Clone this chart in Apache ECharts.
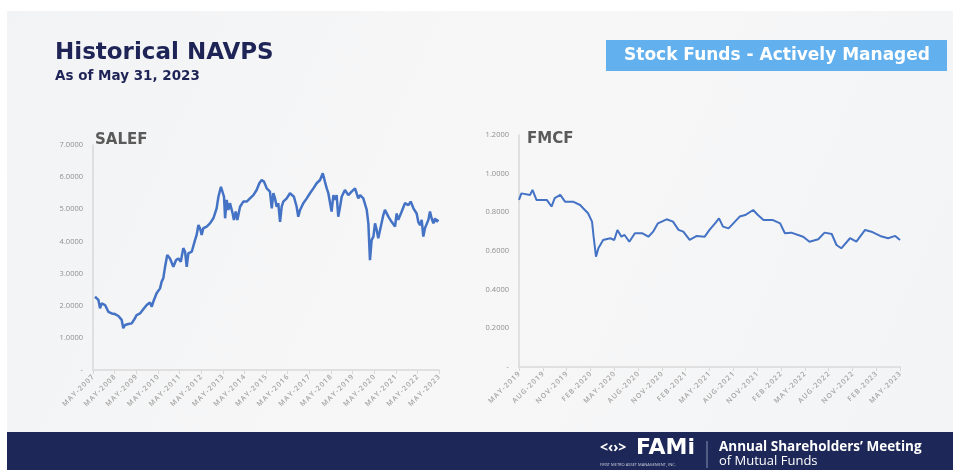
<!DOCTYPE html>
<html>
<head>
<meta charset="utf-8">
<script src="https://cdn.jsdelivr.net/npm/echarts@6/dist/echarts.min.js"></script>
<style>
  html, body { margin: 0; padding: 0; background: #fff; }
  #main { width: 958px; height: 470px; }
</style>
</head>
<body>
<div id="main"></div>
<script>
// SALEF: months since May 2007 and NAVPS
const salefMonth = [1.1, 2.0, 3.0, 3.9, 4.8, 5.7, 6.7, 7.6, 8.5, 10.4, 12.2, 14.1, 15.0, 15.9, 16.8, 17.8, 19.6, 21.5, 23.3, 24.2,
  26.1, 27.9, 29.8, 31.6, 32.6, 33.5, 35.3, 36.3, 37.2, 38.1, 39.0, 40.0, 41.2, 42.7, 44.6, 46.1, 47.4, 48.7, 50.1, 51.1,
  52.0, 52.9, 54.8, 56.6, 57.5, 58.5, 59.4, 60.3, 61.2, 63.1, 64.9, 66.8, 68.6, 69.6, 71.0, 72.0, 72.7, 73.3, 74.2, 75.1,
  76.0, 77.5, 78.2, 79.2, 80.1, 81.6, 83.4, 85.3, 87.1, 89.0, 90.8, 92.3, 93.6, 94.9, 96.4, 97.3, 98.2, 99.2, 100.1, 101.0,
  101.9, 102.8, 103.8, 104.7, 105.6, 107.5, 109.3, 110.2, 111.5, 113.0, 113.9, 114.9, 116.7, 118.6, 120.4, 122.3, 124.1, 126.0, 127.5, 128.2,
  128.7, 129.7, 130.6, 131.5, 132.4, 133.4, 134.3, 135.2, 136.1, 137.1, 138.0, 139.8, 141.7, 143.5, 145.4, 147.2, 148.2, 150.0, 151.9, 152.8,
  153.7, 154.6, 155.6, 156.5, 157.4, 158.3, 159.3, 161.1, 162.0, 163.9, 165.7, 167.6, 168.5, 169.4, 171.3, 173.1, 175.0, 176.3, 177.8, 179.6,
  180.5, 181.5, 182.4, 183.3, 184.2, 186.1, 187.0, 187.9, 188.9, 189.8, 190.7, 191.6]
const salefNavps = [2.28, 2.33, 2.18, 1.92, 2.07, 2.13, 2.02, 1.92, 1.81, 1.76, 1.74, 1.68, 1.66, 1.56, 1.30, 1.40, 1.43, 1.45, 1.61, 1.71,
  1.76, 1.89, 2.02, 2.10, 1.97, 2.13, 2.39, 2.44, 2.54, 2.75, 2.85, 3.21, 3.58, 3.47, 3.21, 3.42, 3.47, 3.37, 3.79, 3.68,
  3.21, 3.63, 3.68, 4.04, 4.20, 4.51, 4.41, 4.20, 4.41, 4.46, 4.56, 4.72, 5.03, 5.39, 5.70, 5.76, 5.39, 4.72, 5.29, 4.98,
  5.19, 4.87, 4.67, 4.93, 4.67, 5.08, 5.24, 5.24, 5.34, 5.44, 5.60, 5.81, 5.91, 5.86, 5.65, 5.70, 5.55, 5.03, 5.50, 5.34,
  5.08, 5.19, 4.61, 5.08, 5.24, 5.34, 5.50, 5.55, 5.39, 5.08, 4.77, 4.98, 5.19, 5.34, 5.50, 5.65, 5.81, 5.91, 6.12, 6.17,
  5.86, 5.65, 5.50, 5.55, 4.93, 5.44, 5.29, 5.44, 4.77, 5.08, 5.39, 5.60, 5.44, 5.55, 5.65, 5.34, 5.44, 5.34, 4.98, 4.56,
  3.42, 4.04, 4.15, 4.56, 4.36, 4.10, 4.15, 4.82, 4.98, 4.77, 4.61, 4.46, 4.87, 4.67, 4.93, 5.19, 5.13, 5.24, 5.03, 4.87,
  4.61, 4.51, 4.67, 4.15, 4.41, 4.67, 4.93, 4.72, 4.56, 4.72, 4.61, 4.68]
const salefTicks = ['MAY-2007', 'MAY-2008', 'MAY-2009', 'MAY-2010', 'MAY-2011', 'MAY-2012', 'MAY-2013', 'MAY-2014',
  'MAY-2015', 'MAY-2016', 'MAY-2017', 'MAY-2018', 'MAY-2019', 'MAY-2020', 'MAY-2021', 'MAY-2022', 'MAY-2023']

// FMCF: months since May 2019
const fmcfMonth = [0, 0.3, 1.4, 1.7, 2.2, 3.5, 4.1, 4.5, 5.2, 5.8, 6.8, 7.7, 8.3, 8.7, 9.2, 9.4, 9.7, 10, 10.6, 11.5,
  12, 12.4, 12.9, 13.3, 13.9, 14.6, 15.5, 16.3, 16.9, 17.5, 18.6, 19.4, 20.1, 20.7, 21.5, 22.4, 23.4, 24, 24.7, 25.2,
  25.7, 26.4, 27, 27.8, 28.5, 29.5, 30.1, 30.8, 32, 32.9, 33.5, 34.3, 35.8, 36.6, 37.7, 38.5, 39.4, 40, 40.6, 41.7,
  42.5, 43.6, 44.4, 45.5, 46.5, 47.4, 48]
const fmcfNavps = [0.864, 0.898, 0.89, 0.916, 0.864, 0.864, 0.83, 0.873, 0.89, 0.855, 0.855, 0.838, 0.812, 0.795, 0.752, 0.674, 0.571, 0.614, 0.657, 0.666,
  0.657, 0.709, 0.674, 0.683, 0.648, 0.692, 0.692, 0.674, 0.70, 0.743, 0.764, 0.752, 0.709, 0.70, 0.657, 0.678, 0.674, 0.709, 0.743, 0.769,
  0.726, 0.717, 0.743, 0.778, 0.786, 0.812, 0.786, 0.76, 0.76, 0.743, 0.692, 0.695, 0.674, 0.648, 0.661, 0.695, 0.688, 0.631, 0.614, 0.666,
  0.648, 0.709, 0.70, 0.678, 0.666, 0.678, 0.657]
const fmcfTicks = ['MAY-2019', 'AUG-2019', 'NOV-2019', 'FEB-2020', 'MAY-2020', 'AUG-2020', 'NOV-2020', 'FEB-2021',
  'MAY-2021', 'AUG-2021', 'NOV-2021', 'FEB-2022', 'MAY-2022', 'AUG-2022', 'NOV-2022', 'FEB-2023', 'MAY-2023']

const font = "'Open Sans', 'Noto Sans', sans-serif"
const headFont = "'DejaVu Sans', 'Open Sans', sans-serif"
const lineBlue = '#4472c4'
const axisGray = '#d9d9d9'
const labelGray = '#8f8f8f'

// spread out the letters a bit like the slide does
const spaced = s => s.split('').join('\u2009')

const chart = echarts.init(document.getElementById('main'), null, { renderer: 'canvas' })

function xAxisFor(gridIndex, max, interval, ticks) {
    return {
        type: 'value',
        gridIndex: gridIndex,
        min: 0,
        max: max,
        interval: interval,
        splitLine: { show: false },
        axisLine: { show: true, lineStyle: { color: axisGray, width: 1.5 } },
        axisTick: { show: true, length: 4, lineStyle: { color: axisGray } },
        axisLabel: {
            rotate: 45,
            margin: 6,
            fontSize: 7,
            fontWeight: 600,
            fontFamily: font,
            color: '#a3a3a3',
            formatter: v => spaced(ticks[Math.round(v / interval)] || '')
        }
    }
}

function yAxisFor(gridIndex, max, interval) {
    return {
        type: 'value',
        gridIndex: gridIndex,
        min: 0,
        max: max,
        interval: interval,
        splitLine: { show: false },
        axisLine: { show: true, lineStyle: { color: axisGray, width: 1.5 } },
        axisTick: { show: false },
        axisLabel: {
            margin: 10,
            fontSize: 7.5,
            fontFamily: font,
            color: labelGray,
            formatter: v => v === 0 ? '-' : v.toFixed(4)
        }
    }
}

const option = {
    backgroundColor: '#ffffff',
    animation: false,
    grid: [
        { left: 93, top: 145, width: 346, height: 225 },
        { left: 519, top: 135, width: 381, height: 232 }
    ],
    xAxis: [
        xAxisFor(0, 192, 12, salefTicks),
        xAxisFor(1, 48, 3, fmcfTicks)
    ],
    yAxis: [
        yAxisFor(0, 7, 1),
        yAxisFor(1, 1.2, 0.2)
    ],
    series: [
        {
            type: 'line',
            name: 'SALEF',
            xAxisIndex: 0,
            yAxisIndex: 0,
            showSymbol: false,
            lineStyle: { color: lineBlue, width: 2.5 },
            data: salefMonth.map((m, i) => [m, salefNavps[i]])
        },
        {
            type: 'line',
            name: 'FMCF',
            xAxisIndex: 1,
            yAxisIndex: 1,
            showSymbol: false,
            lineStyle: { color: lineBlue, width: 2 },
            data: fmcfMonth.map((m, i) => [m, fmcfNavps[i]])
        }
    ],
    graphic: [
        // slide background
        {
            type: 'rect', z: -10, silent: true,
            shape: { x: 7, y: 11, width: 946, height: 421 },
            style: {
                fill: new echarts.graphic.LinearGradient(0, 0, 1, 1, [
                    { offset: 0, color: '#f2f3f4' },
                    { offset: 0.5, color: '#f7f7f8' },
                    { offset: 1, color: '#f3f4f5' }
                ])
            }
        },
        // footer band
        {
            type: 'rect', z: -5, silent: true,
            shape: { x: 7, y: 432, width: 946, height: 38 },
            style: { fill: '#1d2758' }
        },
        {
            type: 'text', left: 55, top: 42,
            style: { text: 'Historical NAVPS', font: 'bold 23px ' + headFont, fill: '#1f2456' }
        },
        {
            type: 'text', left: 55, top: 69,
            style: { text: 'As of May 31, 2023', font: 'bold 13.5px ' + headFont, fill: '#1f2456' }
        },
        {
            type: 'rect',
            shape: { x: 606, y: 40, width: 341, height: 31 },
            style: { fill: '#63b0ee' }
        },
        {
            type: 'text', x: 777, y: 56,
            style: {
                text: 'Stock Funds - Actively Managed', font: 'bold 17px ' + headFont, fill: '#ffffff',
                align: 'center', verticalAlign: 'middle'
            }
        },
        {
            type: 'text', left: 95, top: 133,
            style: { text: 'SALEF', font: 'bold 15px ' + headFont, fill: '#5a5a5a' }
        },
        {
            type: 'text', left: 527, top: 132,
            style: { text: 'FMCF', font: 'bold 15px ' + headFont, fill: '#5a5a5a' }
        },
        // footer logo and meeting name
        {
            type: 'text', left: 600, top: 441,
            style: { text: '<\u2039\u203a>', font: 'bold 14px ' + font, fill: '#ffffff' }
        },
        {
            type: 'text', left: 636, top: 437,
            style: { text: 'FAMi', font: 'bold 22px ' + headFont, fill: '#ffffff' }
        },
        {
            type: 'text', left: 600, top: 463,
            style: { text: 'FIRST METRO ASSET MANAGEMENT, INC.', font: '4px ' + font, fill: '#d0d4e0' }
        },
        {
            type: 'line',
            shape: { x1: 707, y1: 441, x2: 707, y2: 468 },
            style: { stroke: '#8a93b3', lineWidth: 1 }
        },
        {
            type: 'text', left: 719, top: 440,
            style: { text: 'Annual Shareholders\u2019 Meeting', font: 'bold 13.5px ' + font, fill: '#ffffff' }
        },
        {
            type: 'text', left: 719, top: 455,
            style: { text: 'of Mutual Funds', font: '13px ' + font, fill: '#ffffff' }
        }
    ]
}

chart.setOption(option)
</script>
</body>
</html>
